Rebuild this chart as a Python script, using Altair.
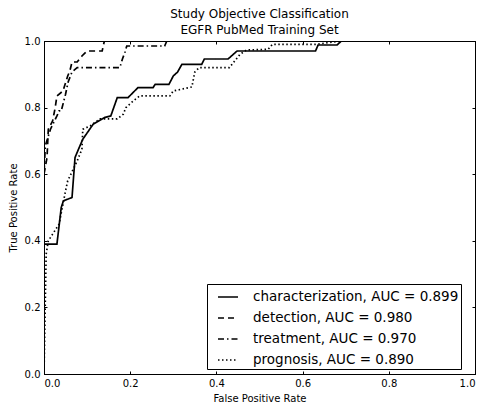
import altair as alt
import pandas as pd

series_names = ["characterization", "detection", "treatment", "prognosis"]
auc_values = ["0.899", "0.980", "0.970", "0.890"]

char_fpr = [0.0, 0.0, 0.03, 0.04, 0.045, 0.065, 0.072, 0.08, 0.09, 0.114, 0.14, 0.155, 0.17, 0.195,
            0.218, 0.253, 0.258, 0.29, 0.30, 0.31, 0.32, 0.366, 0.372, 0.427, 0.448, 0.63, 0.636,
            0.68, 0.69, 1.0]
char_tpr = [0.0, 0.39, 0.39, 0.50, 0.52, 0.53, 0.65, 0.675, 0.705, 0.75, 0.77, 0.775, 0.83, 0.83,
            0.86, 0.86, 0.87, 0.87, 0.895, 0.907, 0.93, 0.93, 0.946, 0.946, 0.97, 0.97, 0.988,
            0.988, 1.0, 1.0]

det_fpr = [0.0, 0.0, 0.007, 0.01, 0.02, 0.026, 0.03, 0.044, 0.055, 0.06, 0.065, 0.077, 0.088,
           0.1, 0.135, 0.14, 1.0]
det_tpr = [0.0, 0.6, 0.65, 0.735, 0.76, 0.80, 0.835, 0.85, 0.895, 0.91, 0.937, 0.937, 0.955,
           0.97, 0.97, 1.0, 1.0]

treat_fpr = [0.0, 0.0, 0.003, 0.015, 0.03, 0.035, 0.04, 0.05, 0.056, 0.065, 0.077, 0.176, 0.182,
             0.188, 0.192, 0.28, 0.285, 1.0]
treat_tpr = [0.0, 0.6, 0.685, 0.735, 0.775, 0.79, 0.79, 0.84, 0.877, 0.907, 0.92, 0.92, 0.946,
             0.967, 0.985, 0.985, 1.0, 1.0]

prog_fpr = [0.0, 0.005, 0.01, 0.02, 0.035, 0.05, 0.055, 0.077, 0.088, 0.09, 0.107, 0.13, 0.17,
            0.184, 0.19, 0.207, 0.222, 0.292, 0.30, 0.343, 0.35, 0.36, 0.43, 0.455, 0.47, 0.52,
            0.53, 0.63, 0.69, 1.0]
prog_tpr = [0.0, 0.36, 0.40, 0.42, 0.45, 0.55, 0.58, 0.64, 0.675, 0.735, 0.745, 0.766, 0.766,
            0.78, 0.80, 0.82, 0.835, 0.835, 0.85, 0.862, 0.907, 0.92, 0.92, 0.96, 0.973, 0.975,
            0.99, 0.99, 1.0, 1.0]

tick_values = [0.0, 0.2, 0.4, 0.6, 0.8, 1.0]

curves = [(char_fpr, char_tpr), (det_fpr, det_tpr), (treat_fpr, treat_tpr), (prog_fpr, prog_tpr)]
labels = [f"{n}, AUC = {a}" for n, a in zip(series_names, auc_values)]

rows = []
for label, (fpr, tpr) in zip(labels, curves):
    for i, (f, t) in enumerate(zip(fpr, tpr)):
        rows.append({"series": label, "fpr": f, "tpr": t, "order": i})
df = pd.DataFrame(rows)

dash_range = [[1, 0], [6, 4], [6, 3, 1.5, 3], [1.5, 2.5]]

xscale = alt.Scale(domain=[0, 1], nice=False, zero=False)
yscale = alt.Scale(domain=[0, 1], nice=False, zero=False)

lines = alt.Chart(df).mark_line(color="black", strokeWidth=1.7, clip=True).encode(
    x=alt.X("fpr:Q", scale=xscale,
            axis=alt.Axis(title="False Positive Rate", values=tick_values, format=".1f",
                          labelPadding=7, titlePadding=5)),
    y=alt.Y("tpr:Q", scale=yscale,
            axis=alt.Axis(title="True Positive Rate", values=tick_values, format=".1f",
                          labelPadding=7, titlePadding=6)),
    strokeDash=alt.StrokeDash(
        "series:N",
        scale=alt.Scale(domain=labels, range=dash_range),
        sort=labels,
        legend=alt.Legend(title=None, orient="none", legendX=163, legendY=243),
    ),
    order="order:Q",
)

frame = alt.Chart(df).mark_point(opacity=0).encode(
    x=alt.X("fpr:Q", scale=xscale,
            axis=alt.Axis(orient="top", labels=False, title=None, values=tick_values)),
    y=alt.Y("tpr:Q", scale=yscale,
            axis=alt.Axis(orient="right", labels=False, title=None, values=tick_values)),
)

chart = alt.layer(lines, frame).resolve_axis(x="independent", y="independent").properties(
    width=431,
    height=333,
    autosize=alt.AutoSizeParams(type="none"),
    padding={"left": 36, "top": 33, "right": 2, "bottom": 30},
    title=alt.Title(["Study Objective Classification", "EGFR PubMed Training Set"],
                    fontSize=12, font="DejaVu Sans", fontWeight="normal", anchor="middle",
                    offset=-1, lineHeight=16, color="black"),
).configure_view(
    stroke="black", strokeWidth=1
).configure_axis(
    grid=False,
    domainColor="black",
    domainWidth=1,
    tickColor="black",
    tickSize=alt.ExprRef("-3"),
    labelFont="DejaVu Sans",
    labelFontSize=10,
    labelColor="black",
    titleFont="DejaVu Sans",
    titleFontSize=10,
    titleFontWeight="normal",
    titleColor="black",
).configure_legend(
    strokeColor="black",
    fillColor="white",
    padding=2,
    symbolOffset=8,
    cornerRadius=0,
    symbolType="stroke",
    symbolStrokeColor="black",
    symbolStrokeWidth=1.7,
    symbolSize=400,
    labelFont="DejaVu Sans",
    labelFontSize=13.5,
    labelColor="black",
    labelOffset=14,
    rowPadding=3,
    labelLimit=400,
)

chart.save("out.html", embed_options={"renderer": "svg", "actions": False})
